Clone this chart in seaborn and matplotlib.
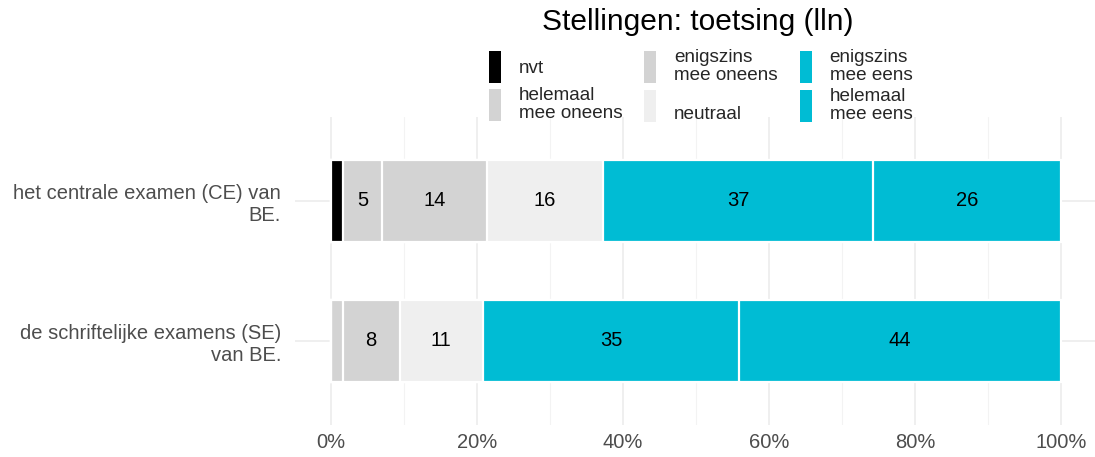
import matplotlib
matplotlib.use("Agg")
import matplotlib.pyplot as plt
from matplotlib.patches import Patch
import seaborn as sns
import pandas as pd
import numpy as np

categories = ["het centrale examen (CE) van\nBE.", "de schriftelijke examens (SE)\nvan BE."]
series = ["nvt", "helemaal\nmee oneens", "enigszins\nmee oneens", "neutraal", "enigszins\nmee eens", "helemaal\nmee eens"]
colors = ["#000000", "#d3d3d3", "#d3d3d3", "#efefef", "#00bcd4", "#00bcd4"]
values = {
    "nvt":                   [1.6, 0.0],
    "helemaal\nmee oneens":  [5.4, 1.6],
    "enigszins\nmee oneens": [14.4, 7.8],
    "neutraal":              [15.8, 11.4],
    "enigszins\nmee eens":   [37.1, 35.1],
    "helemaal\nmee eens":    [25.7, 44.1],
}
xticks = [0, 20, 40, 60, 80, 100]
xticklabels = ["0%", "20%", "40%", "60%", "80%", "100%"]
title = "Stellingen: toetsing (lln)"

sns.set_theme(style="white")
plt.rcParams["font.family"] = ["Liberation Sans", "DejaVu Sans"]

W, H = 1095, 457
fig = plt.figure(figsize=(W / 100, H / 100), dpi=100)
ax = fig.add_axes([295 / W, 1 - 425 / H, 1 - 295 / W, (425 - 117) / H])

df = pd.DataFrame(values, index=categories)
cum = df.cumsum(axis=1)

# draw from the end so earlier segments overlap later ones
for s, c in reversed(list(zip(series, colors))):
    d = pd.DataFrame({"cat": categories, "val": cum[s].values})
    sns.barplot(data=d, x="val", y="cat", orient="h", color=c, width=0.58,
                edgecolor="white", linewidth=1.6, saturation=1, ax=ax, zorder=2)

for i, cat in enumerate(categories):
    for s in series:
        v = df.loc[cat, s]
        if v >= 3:
            ax.text(cum.loc[cat, s] - v / 2, i, f"{v:.0f}", ha="center", va="center",
                    fontsize=14.5, color="black", zorder=3)

ax.set_xlim(-4.93, 104.66)
ax.set_ylim(1.6, -0.6)
ax.set_xticks(xticks)
ax.set_xticklabels(xticklabels)
ax.set_xticks([10, 30, 50, 70, 90], minor=True)
ax.grid(True, which="major", axis="both", color="#ebebeb", linewidth=1.1, zorder=0)
ax.grid(True, which="minor", axis="x", color="#f3f3f3", linewidth=0.8, zorder=0)
ax.set_axisbelow(True)
for sp in ax.spines.values():
    sp.set_visible(False)
ax.set_xlabel("")
ax.set_ylabel("")
ax.tick_params(axis="x", which="both", length=0, pad=6, labelsize=14.5, labelcolor="#4d4d4d")
ax.tick_params(axis="y", length=0, pad=10, labelsize=14.5, labelcolor="#4d4d4d")
for lab in ax.get_yticklabels():
    lab.set_multialignment("right")

handles = [Patch(facecolor=c, edgecolor="none") for c in colors]
leg_labels = ["\n" + s if s == "neutraal" else s for s in series]
leg = fig.legend(handles, leg_labels, loc="upper left", bbox_to_anchor=(489 / W, 1 - 49 / H),
                 ncol=3, frameon=False, fontsize=13.6, handlelength=0.63, handleheight=2.23,
                 handletextpad=0.95, columnspacing=1.16, labelspacing=0.2, borderpad=0,
                 borderaxespad=0)
for t in leg.get_texts():
    t.set_linespacing(1.1)

fig.text(698 / W, 1 - 22 / H, title, ha="center", va="center", fontsize=21.5, color="black")

fig.savefig("out.png", dpi=100)
